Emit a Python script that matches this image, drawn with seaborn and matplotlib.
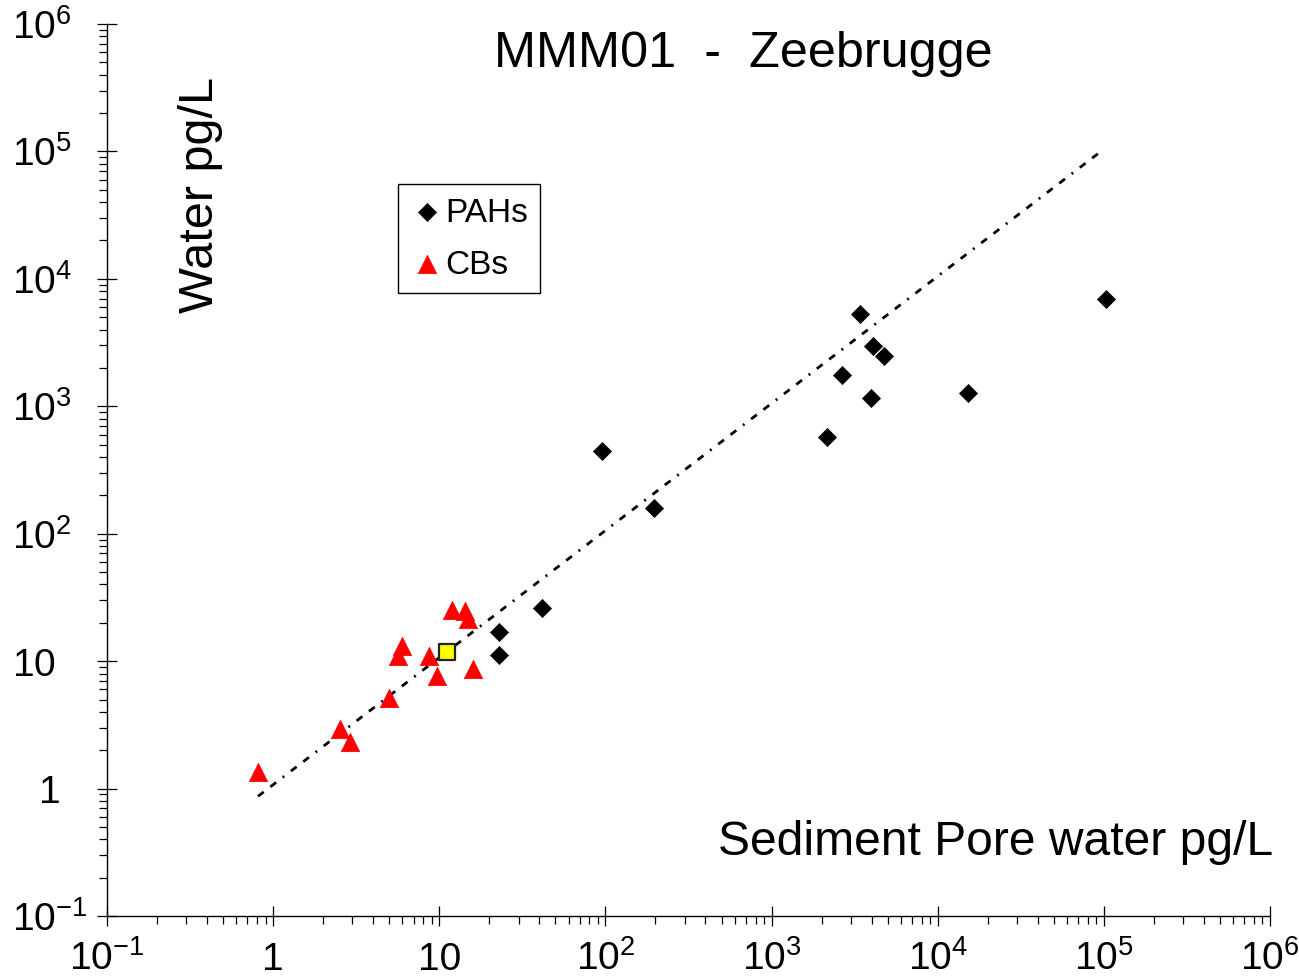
import numpy as np
import matplotlib
matplotlib.use("Agg")
import matplotlib.pyplot as plt
import matplotlib.ticker as mticker
import matplotlib.transforms as mtransforms
import seaborn as sns

# ---------------- data ----------------
pah_x = [22.8, 22.8, 41.3, 94.8, 195, 2140, 2670, 3420, 3980, 4090, 4770, 15300, 103000]
pah_y = [16.9, 11.2, 26.1, 446, 159, 574, 1760, 5300, 1160, 2970, 2480, 1270, 6950]

cb_x = [0.81, 2.52, 2.89, 4.96, 5.94, 5.62, 8.63, 9.65, 11.9, 14.2, 14.8, 15.9]
cb_y = [1.35, 2.94, 2.32, 5.14, 13.2, 11.0, 11.0, 7.65, 25.2, 24.8, 21.4, 8.68]

ref_x = [11.1]
ref_y = [11.8]

fit_x = [0.81, 96000]
fit_y = [0.87, 100000]

tick_values = [0.1, 1, 10, 100, 1e3, 1e4, 1e5, 1e6]
tick_text = ["10^{-1}", "1", "10", "10^{2}", "10^{3}", "10^{4}", "10^{5}", "10^{6}"]

title_text = "MMM01  -  Zeebrugge"
x_label = "Sediment Pore water pg/L"
y_label = "Water pg/L"
series_names = ["PAHs", "CBs"]

# ---------------- style ----------------
sns.set_theme(style="white")
plt.rcParams["font.family"] = ["Liberation Sans", "DejaVu Sans"]
plt.rcParams["text.color"] = "black"
plt.rcParams["mathtext.fontset"] = "custom"
plt.rcParams["mathtext.rm"] = "Liberation Sans"
plt.rcParams["mathtext.it"] = "Liberation Sans:italic"
plt.rcParams["mathtext.bf"] = "Liberation Sans:bold"


def x_fmt(t):
    return "$\\mathregular{" + t + "}$" if "^" in t else t


def y_fmt(t):
    # labels are left aligned on the "10"; a lone "1" sits under the "0"
    if len(t) == 1:
        return "$\\mathregular{\\hspace{0.82}" + t + "}$"
    return "$\\mathregular{" + t + "}$"


fig = plt.figure(figsize=(12.99, 9.79), dpi=100)
ax = fig.add_axes([0.0824, 0.0633, 0.8953, 0.9112])
ax.set_xscale("log")
ax.set_yscale("log")

# trend line
sns.lineplot(x=fit_x, y=fit_y, ax=ax, color="black", linewidth=2.0,
             estimator=None, sort=False, legend=False, zorder=2)
ax.lines[-1].set_linestyle((0, (2.6, 3, 2.6, 3, 0.7, 3)))

# series
sns.scatterplot(x=pah_x, y=pah_y, ax=ax, marker="D", s=85, color="black",
                edgecolor="black", linewidth=0.5, label=series_names[0], zorder=3)
sns.scatterplot(x=cb_x, y=cb_y, ax=ax, marker="^", s=175, color="#ff0000",
                edgecolor="#ff0000", linewidth=0.5, label=series_names[1], zorder=3)
sns.scatterplot(x=ref_x, y=ref_y, ax=ax, marker="s", s=120, color="#ffff00",
                edgecolor="#222222", linewidth=1.6, zorder=4, legend=False)

# axes
ax.set_xlim(0.1, 1e6)
ax.set_ylim(0.1, 1e6)
for axis, fmt in ((ax.xaxis, x_fmt), (ax.yaxis, y_fmt)):
    axis.set_major_locator(mticker.FixedLocator(tick_values))
    axis.set_major_formatter(mticker.FixedFormatter([fmt(t) for t in tick_text]))
    axis.set_minor_locator(mticker.LogLocator(base=10, subs=np.arange(2, 10), numticks=100))
    axis.set_minor_formatter(mticker.NullFormatter())

sns.despine(ax=ax)
for s in ("left", "bottom"):
    ax.spines[s].set_color("black")
    ax.spines[s].set_linewidth(1.0)

ax.tick_params(which="major", direction="inout", length=14, width=0.9, color="black",
               labelsize=28, labelcolor="black", bottom=True, left=True)
ax.tick_params(which="minor", direction="out", length=5.5, width=0.9, color="black",
               bottom=True, left=True)
ax.tick_params(axis="x", which="major", pad=31)
ax.tick_params(axis="y", which="major", pad=61.4)

for t in ax.xaxis.get_major_ticks():
    t.label1.set_va("baseline")
yoff = mtransforms.ScaledTranslation(0, -10 / 72, fig.dpi_scale_trans)
for t in ax.yaxis.get_major_ticks():
    t.label1.set_va("baseline")
    t.label1.set_ha("left")
    t.label1.set_transform(t.label1.get_transform() + yoff)

# labels and title
ax.set_xlabel(x_label, fontsize=34.6, color="black")
ax.xaxis.set_label_coords(1.0026, 0.0695)
ax.xaxis.label.set_ha("right")
ax.xaxis.label.set_va("baseline")

ax.set_ylabel(y_label, fontsize=35, color="black")
ax.yaxis.set_label_coords(0.0911, 0.8094)
ax.yaxis.label.set_va("baseline")

ax.set_title(title_text, fontsize=36.3, color="black", pad=0, y=0.9529, x=0.547)

leg = ax.legend(loc="upper left", bbox_to_anchor=(0.250, 0.8206), borderaxespad=0,
                frameon=True, fancybox=False, edgecolor="black", fontsize=24,
                handlelength=0.98, handletextpad=0.05, borderpad=0.38,
                labelspacing=0.64, framealpha=1, scatterpoints=1)
leg.get_frame().set_linewidth(1.0)
for txt in leg.get_texts():
    txt.set_color("black")

fig.savefig("out.png", dpi=100)
